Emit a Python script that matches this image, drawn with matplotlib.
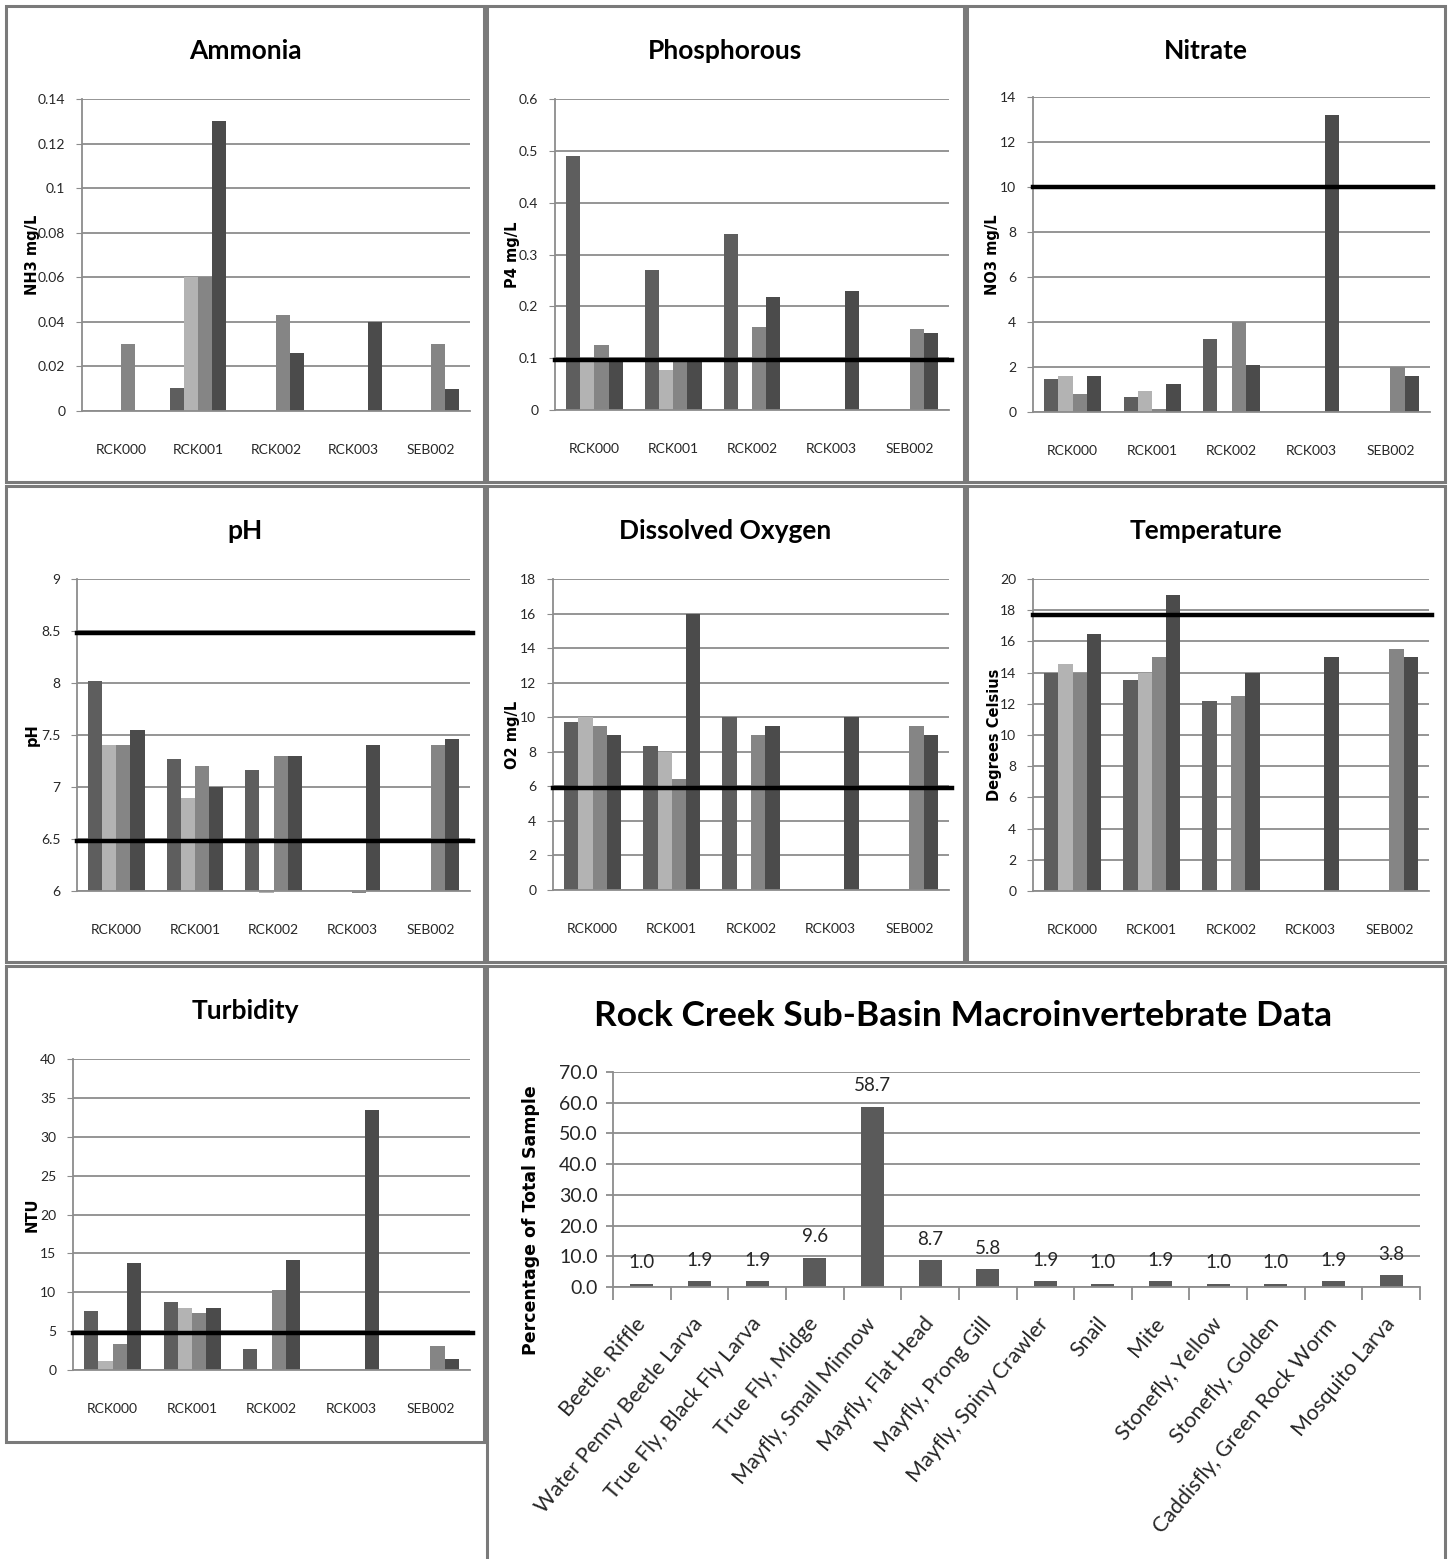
import matplotlib
matplotlib.use('Agg')
import matplotlib.pyplot as plt
from matplotlib.patches import Rectangle
import numpy as np

nan = np.nan
W, H = 1452, 1559
NARROW = ['Lato', 'DejaVu Sans']
BOLDLAB = ['DejaVu Sans']

sites = ['RCK000', 'RCK001', 'RCK002', 'RCK003', 'SEB002']

# four sampling rounds per site, nan where there was no sample
ammonia = [[nan, 0.0105, nan, nan, nan],
           [nan, 0.06, nan, nan, nan],
           [0.03, 0.06, 0.043, nan, 0.03],
           [nan, 0.13, 0.026, 0.04, 0.01]]
phosphorous = [[0.49, 0.27, 0.34, nan, nan],
               [0.092, 0.078, nan, nan, nan],
               [0.125, 0.093, 0.16, nan, 0.157],
               [0.095, 0.095, 0.218, 0.23, 0.148]]
nitrate = [[1.45, 0.65, 3.25, nan, nan],
           [1.6, 0.95, nan, nan, nan],
           [0.8, 0.15, 4.0, nan, 2.0],
           [1.6, 1.25, 2.1, 13.2, 1.6]]
ph = [[8.02, 7.27, 7.16, nan, nan],
      [7.4, 6.89, 5.98, nan, nan],
      [7.4, 7.2, 7.3, 5.98, 7.4],
      [7.55, 7.0, 7.3, 7.4, 7.46]]
oxygen = [[9.75, 8.35, 10.0, nan, nan],
          [10.0, 8.0, nan, nan, nan],
          [9.5, 6.45, 9.0, nan, 9.5],
          [9.0, 16.0, 9.5, 10.0, 9.0]]
temperature = [[14.0, 13.5, 12.2, nan, nan],
               [14.55, 14.0, nan, nan, nan],
               [14.0, 15.0, 12.5, nan, 15.5],
               [16.45, 19.0, 14.0, 15.0, 15.0]]
turbidity = [[7.6, 8.8, 2.7, nan, nan],
             [1.1, 8.0, nan, nan, nan],
             [3.3, 7.3, 10.3, nan, 3.1],
             [13.7, 8.0, 14.1, 33.4, 1.4]]

taxa = ['Beetle, Riffle', 'Water Penny Beetle Larva', 'True Fly, Black Fly Larva',
        'True Fly, Midge', 'Mayfly, Small Minnow', 'Mayfly, Flat Head',
        'Mayfly, Prong Gill', 'Mayfly, Spiny Crawler', 'Snail', 'Mite',
        'Stonefly, Yellow', 'Stonefly, Golden', 'Caddisfly, Green Rock Worm',
        'Mosquito Larva']
taxa_pct = [1.0, 1.9, 1.9, 9.6, 58.7, 8.7, 5.8, 1.9, 1.0, 1.9, 1.0, 1.0, 1.9, 3.8]

series_colors = ['#5e5e5e', '#b3b3b3', '#858585', '#4b4b4b']
grid_col = '#8c8c8c'
text_col = '#262626'


def box(l, t, r, b):
    return [l / W, 1 - b / H, (r - l) / W, (b - t) / H]


def panel(fig, l, t, r, b):
    fig.patches.append(Rectangle((l / W, 1 - b / H), (r - l) / W, (b - t) / H,
                                 transform=fig.transFigure, fill=False,
                                 edgecolor='#7a7a7a', lw=2.2))


def site_chart(fig, rect, pbox, title, ylabel, data, ymin, ymax, step,
               limits=(), fmt='{:g}', ylab_x=None):
    panel(fig, *pbox)
    ax = fig.add_axes(box(*rect))
    x = np.arange(len(sites))
    w = 0.18
    for i, vals in enumerate(data):
        vals = np.array(vals, dtype=float)
        ax.bar(x + (i - 1.5) * w, vals - ymin, bottom=ymin, width=w,
               color=series_colors[i], clip_on=False, zorder=2)
    for lim in limits:
        ax.axhline(lim, xmin=0, xmax=1.008, color='black', lw=3.2,
                   zorder=3, clip_on=False)
    ax.set_xlim(-0.5, len(sites) - 0.5)
    ax.set_ylim(ymin, ymax)
    ticks = np.arange(ymin, ymax + step / 2, step)
    ax.set_yticks(ticks)
    ax.set_yticklabels([fmt.format(round(t, 4)) for t in ticks],
                       family=NARROW, fontsize=10, color=text_col)
    ax.set_xticks(x)
    ax.set_xticklabels(sites, family=NARROW, fontsize=10, color=text_col)
    ax.tick_params(axis='x', length=0, pad=24)
    ax.tick_params(axis='y', length=4, color=grid_col, pad=8)
    ax.grid(axis='y', color=grid_col, lw=1.3, zorder=0)
    ax.set_axisbelow(True)
    for s in ['top', 'right']:
        ax.spines[s].set_visible(False)
    ax.spines['left'].set_color(grid_col)
    ax.spines['bottom'].set_color(grid_col)
    ax.spines['left'].set_linewidth(1.3)
    ax.spines['bottom'].set_linewidth(1.3)
    l, t, r, b = pbox
    fig.text((l + r) / 2 / W, 1 - (t + 45) / H, title, family=NARROW,
             fontsize=19, fontweight='bold', ha='center', va='center')
    fig.text(ylab_x / W, 1 - (rect[1] + rect[3]) / 2 / H, ylabel,
             family=BOLDLAB, fontsize=10.5, fontweight='bold', rotation=90,
             ha='center', va='center')
    return ax


fig = plt.figure(figsize=(W / 100, H / 100), dpi=100)

site_chart(fig, (82, 99, 470, 411), (6, 6, 484, 482), 'Ammonia', 'NH3 mg/L',
           ammonia, 0, 0.14, 0.02, ylab_x=32)
site_chart(fig, (555, 99, 949, 410), (487, 6, 964, 482), 'Phosphorous', 'P4 mg/L',
           phosphorous, 0, 0.6, 0.1, limits=(0.097,), ylab_x=512)
site_chart(fig, (1033, 97, 1430, 412), (967, 6, 1445, 482), 'Nitrate', 'NO3 mg/L',
           nitrate, 0, 14, 2, limits=(10,), ylab_x=992)
site_chart(fig, (77, 579, 470, 891), (6, 486, 484, 962), 'pH', 'pH',
           ph, 6, 9, 0.5, limits=(8.48, 6.48), ylab_x=32)
site_chart(fig, (553, 579, 949, 890), (487, 486, 964, 962), 'Dissolved Oxygen', 'O2 mg/L',
           oxygen, 0, 18, 2, limits=(5.92,), ylab_x=513)
site_chart(fig, (1033, 579, 1429, 891), (967, 486, 1445, 962), 'Temperature', 'Degrees Celsius',
           temperature, 0, 20, 2, limits=(17.7,), ylab_x=994)
site_chart(fig, (73, 1059, 470, 1370), (6, 966, 484, 1442), 'Turbidity', 'NTU',
           turbidity, 0, 40, 5, limits=(4.75,), ylab_x=32)

# macroinvertebrate panel, open at the bottom edge
fig.patches.append(Rectangle((487 / W, -0.01), (1445 - 487) / W, 1 - 966 / H + 0.01,
                             transform=fig.transFigure, fill=False,
                             edgecolor='#7a7a7a', lw=2.2))
ax = fig.add_axes(box(613, 1072, 1420, 1287))
xm = np.arange(len(taxa))
bars = ax.bar(xm, taxa_pct, width=0.4, color='#5a5a5a', zorder=2)
for rect_, v in zip(bars, taxa_pct):
    ax.annotate('{:.1f}'.format(v), (rect_.get_x() + rect_.get_width() / 2, v),
                xytext=(0, 9), textcoords='offset points', ha='center', va='bottom',
                family=NARROW, fontsize=13.5, color=text_col)
ax.set_xlim(-0.5, len(taxa) - 0.5)
ax.set_ylim(0, 70)
ax.set_yticks(np.arange(0, 71, 10))
ax.set_yticklabels(['{:.1f}'.format(t) for t in np.arange(0, 71, 10)],
                   family=NARROW, fontsize=14, color=text_col)
ax.set_xticks(xm)
ax.set_xticks(np.arange(-0.5, len(taxa), 1), minor=True)
ax.set_xticklabels(taxa, rotation=50, ha='right', va='center', rotation_mode='anchor',
                   family=NARROW, fontsize=15.5, color=text_col)
ax.tick_params(axis='x', which='major', length=0, pad=24)
ax.tick_params(axis='x', which='minor', length=9, color=grid_col, width=1.3)
ax.tick_params(axis='y', length=5, color=grid_col, width=1.3, pad=6)
ax.grid(axis='y', color=grid_col, lw=1.3, zorder=0)
ax.set_axisbelow(True)
for s in ['top', 'right']:
    ax.spines[s].set_visible(False)
for s in ['left', 'bottom']:
    ax.spines[s].set_color(grid_col)
    ax.spines[s].set_linewidth(1.3)
fig.text(963 / W, 1 - 1016 / H, 'Rock Creek Sub-Basin Macroinvertebrate Data',
         family=NARROW, fontsize=25.5, fontweight='bold', ha='center', va='center')
fig.text(531 / W, 1 - 1220 / H, 'Percentage of Total Sample', family=BOLDLAB,
         fontsize=12.5, fontweight='bold', rotation=90, ha='center', va='center')

fig.savefig('out.png', dpi=100, facecolor='white')
